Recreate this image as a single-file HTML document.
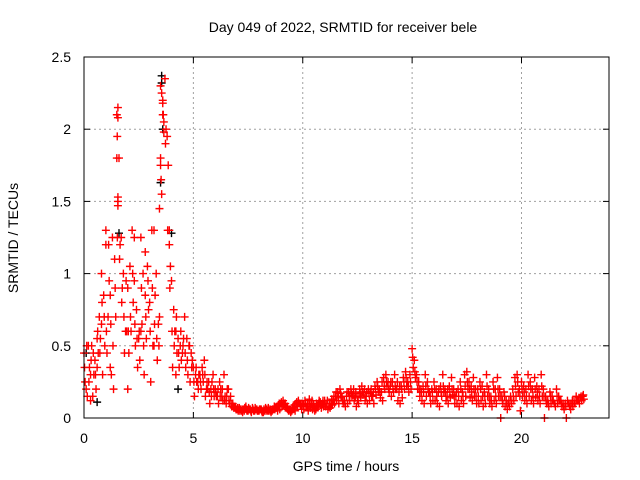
<!DOCTYPE html>
<html><head><meta charset="utf-8"><style>
body{margin:0;background:#fff}
svg{display:block;font-family:"Liberation Sans",sans-serif}
</style></head><body>
<svg id="chart" width="640" height="480">
<text x="343" y="32" font-size="14" text-anchor="middle" fill="#000">Day 049 of 2022, SRMTID for receiver bele</text>
<text x="18" y="238" font-size="14" text-anchor="middle" transform="rotate(-90 18 238)">SRMTID / TECUs</text>
<text x="346" y="471" font-size="14" text-anchor="middle">GPS time / hours</text>
<g id="grid"></g>
<g id="ticks"></g>
<g id="marks"></g>
<rect x="84" y="57" width="525" height="361" fill="none" stroke="#000" stroke-width="1"/>
</svg>
<script>
const xTicks=[0,5,10,15,20];
const yTicks=[0,0.5,1,1.5,2,2.5];
const yTickLabels=["0","0.5","1","1.5","2","2.5"];
const seriesA=[.45,.2,.5,.3,.15,.4,.35,.7,.65,.85, 1.3,.7,.85,1.25,1.1,2.1,1.8,1.25,1.0,.6, .9,1.05,1.3,.95,.75,.55,1.25,1.0,.85,1.05, .8,1.3,.5,1.0,.65,1.8,2.2,2.35,1.95,1.3, .95,.75,.6,.55,.5,.45,.7,.55,.5,.45, .35,.3,.25,.3,.35,.4,.2,.25,.2,.3, .2,.15,.25,.15,.3,.1,.2,.15,.1,.08, .06,.07,.05,.06,.08,.05,.06,.07,.05,.06, .05,.06,.04,.07,.05,.06,.05,.08,.07,.09, .1,.12,.1,.08,.06,.05,.07,.1,.12,.09, .1,.12,.08,.13,.1,.09,.06,.08,.11,.1, .12,.1,.08,.1,.12,.15,.18,.2,.15,.12, .15,.18,.2,.16,.14,.12,.2,.22,.18,.15, .2,.18,.15,.22,.25,.2,.18,.28,.3,.25, .22,.25,.3,.2,.18,.22,.28,.32,.25,.3, .48,.4,.3,.25,.2,.22,.3,.25,.18,.2, .25,.2,.18,.22,.3,.2,.15,.22,.28,.2, .15,.2,.25,.18,.3,.32,.25,.22,.28,.2, .2,.25,.22,.18,.3,.2,.15,.25,.2,.28, .2,.15,.18,.12,.1,.15,.2,.28,.3,.2, .25,.22,.2,.3,.25,.2,.28,.22,.2,.3, .2,.15,.12,.18,.15,.1,.2,.15,.12,.1, .1,.12,.08,.1,.12,.15,.12,.14,.15];
const seriesB=[.25,.15,.35,.5,.3,.2,.45,.55,.3,.5, .45,.95,.3,.2,.7,1.5,1.2,.9,.45,.6, .45,.6,.8,.5,.35,.4,.65,.3,.55,.75, .25,.5,.85,.4,.7,1.55,2.05,2.0,1.75,1.05, .35,.6,.45,.35,.4,.55,.35,.3,.25,.4, .15,.25,.3,.2,.25,.15,.2,.1,.25,.15, .15,.1,.2,.12,.15,.2,.1,.08,.07,.06, .05,.06,.04,.07,.05,.06,.04,.05,.06,.05, .06,.04,.05,.06,.05,.04,.06,.07,.05,.06, .08,.1,.07,.05,.04,.06,.05,.08,.1,.06, .06,.08,.05,.07,.06,.05,.08,.12,.07,.08, .08,.06,.07,.09,.1,.12,.1,.14,.1,.08, .1,.12,.15,.12,.08,.1,.14,.16,.12,.1, .12,.15,.1,.16,.18,.14,.12,.2,.22,.18, .15,.18,.2,.12,.1,.14,.2,.22,.18,.2, .35,.28,.2,.15,.12,.1,.15,.18,.1,.12, .12,.1,.08,.15,.18,.12,.1,.14,.16,.1, .1,.08,.12,.1,.15,.2,.14,.12,.15,.1, .1,.12,.08,.1,.15,.1,.08,.12,.1,.15, 0,.1,.08,.06,.08,.1,.12,.15,.18,.05, .15,.12,.1,.15,.12,.1,.14,.12,.1,.15, 0,.1,.08,.1,.12,.08,.1,.12,.08,.06, 0,.1,.06,.08,.1,.12,.1,.12,.13];
const seriesC=[.35,.5,.25,.4,.45,.3,.6,.45,.8,.7, .6,1.2,.65,.5,.9,1.25,1.1,.8,.7,.95, .6,.7,1.0,.65,.55,.6,.9,.5,.7,.95, .6,.9,.65,.55,.5,1.65,2.1,1.9,1.3,.9, .6,.5,.7,.45,.6,.5,.45,.4,.5,.35, .25,.35,.2,.25,.3,.3,.25,.18,.15,.2, .18,.2,.15,.2,.12,.15,.12,.1,.08,.07, .07,.05,.06,.05,.06,.07,.05,.06,.07,.05, .06,.05,.06,.05,.07,.05,.06,.06,.08,.1, .11,.09,.08,.06,.05,.07,.09,.11,.1,.1, .09,.1,.1,.09,.12,.07,.1,.1,.09,.12, .1,.12,.1,.13,.15,.18,.15,.17,.12,.1, .18,.15,.17,.2,.18,.15,.17,.18,.2,.18, .17,.2,.18,.2,.22,.18,.25,.22,.25,.2, .25,.2,.22,.25,.22,.2,.25,.28,.22,.25, .42,.32,.25,.2,.18,.18,.22,.2,.15,.18, .2,.15,.2,.18,.22,.18,.2,.18,.2,.15, .18,.15,.2,.15,.22,.25,.2,.18,.2,.15, .15,.2,.15,.15,.22,.15,.12,.2,.15,.2, .15,.12,.15,.1,.12,.12,.15,.22,.25,.15, .2,.18,.15,.22,.2,.15,.2,.18,.15,.22, .15,.12,.1,.15,.12,.1,.15,.12,.1,.08, .08,.1,.1,.12,.1,.12,.14,.15,.16];
const extraTimes=[1.55,1.55,1.52,1.5,1.55,1.55,3.5,3.55,3.6,3.6,3.65,3.5,3.45,0.8,1.0,2.3,2.8,3.2,0.3,0.6,1.2,2.0,2.6,3.9,4.2];
const extraVals=[2.15,2.08,1.95,1.8,1.53,1.47,2.3,2.25,2.18,2.1,1.98,1.75,1.45,1.0,1.2,1.25,1.15,1.3,.12,.55,.35,.2,.6,1.2,.3];
const blackTimes=[3.55,3.55,3.6,0.1,1.6,3.5,4.0,4.3,0.6];
const blackVals=[2.37,2.32,2.0,0.45,1.28,1.63,1.28,0.2,0.11];
const X=h=>84+h*(525/24), Y=v=>418-v*(361/2.5);
const ns="http://www.w3.org/2000/svg";
const grid=document.getElementById('grid'),ticks=document.getElementById('ticks'),marks=document.getElementById('marks');
function mk(tag,at,par){const e=document.createElementNS(ns,tag);for(const k in at)e.setAttribute(k,at[k]);par.appendChild(e);return e;}
xTicks.forEach(t=>{const x=X(t);
 if(t>0){const g=mk('line',{x1:x,y1:57,x2:x,y2:418,stroke:'#a0a0a0','stroke-dasharray':'2,3'},grid);}
 mk('line',{x1:x,y1:418,x2:x,y2:412,stroke:'#000'},ticks);mk('line',{x1:x,y1:57,x2:x,y2:63,stroke:'#000'},ticks);
 const l=mk('text',{x:x,y:443,'font-size':14,'text-anchor':'middle'},ticks);l.textContent=t;
 });
yTicks.forEach((t,i)=>{const y=Y(t);
 if(t>0&&t<2.5){const g=mk('line',{x1:84,y1:y,x2:609,y2:y,stroke:'#a0a0a0','stroke-dasharray':'2,3'},grid);}
 mk('line',{x1:84,y1:y,x2:90,y2:y,stroke:'#000'},ticks);mk('line',{x1:609,y1:y,x2:603,y2:y,stroke:'#000'},ticks);
 const l=mk('text',{x:71,y:y+5,'font-size':14,'text-anchor':'end'},ticks);l.textContent=yTickLabels[i];
 });
function plus(h,v,col){const x=X(h),y=Y(v);
 const p=mk('path',{d:`M${x-4},${y}H${x+4}M${x},${y-4}V${y+4}`,stroke:col,'stroke-width':1.4,fill:'none'},marks);
 }
blackTimes.forEach((t,i)=>plus(t,blackVals[i],'#000'));
seriesA.forEach((v,i)=>plus(i*0.1,v,'#f00'));
seriesB.forEach((v,i)=>plus(i*0.1+0.05,v,'#f00'));
seriesC.forEach((v,i)=>plus(i*0.1+0.025,v,'#f00'));
extraTimes.forEach((t,i)=>plus(t,extraVals[i],'#f00'));
</script>
</body></html>
